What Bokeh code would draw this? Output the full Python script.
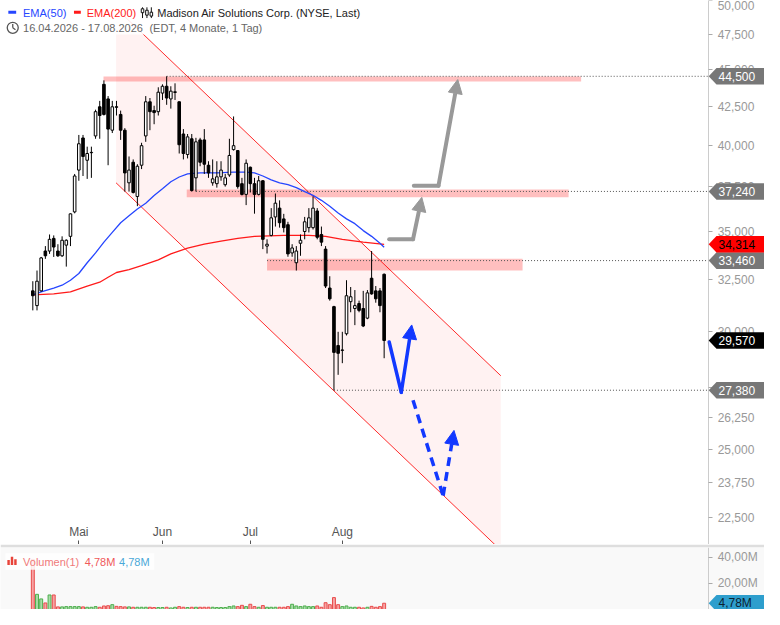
import math
import pandas as pd
from bokeh.plotting import figure
from bokeh.layouts import column
from bokeh.models import (Range1d, LogAxis, LinearAxis, FixedTicker, NumeralTickFormatter,
                          ColumnDataSource, Arrow, NormalHead)
from bokeh.core.properties import value
from bokeh.embed import file_html
from bokeh.resources import INLINE

# ---------------- data ----------------
start_date = "2026-04-16"
end_date = "2026-08-17"
holidays = ["2026-05-25", "2026-06-19", "2026-07-03"]
month_names = {1: "Jan", 2: "Feb", 3: "Mär", 4: "Apr", 5: "Mai", 6: "Jun",
               7: "Jul", 8: "Aug", 9: "Sep", 10: "Okt", 11: "Nov", 12: "Dez"}
title_text = "Madison Air Solutions Corp. (NYSE, Last)"
period_text = "(EDT, 4 Monate, 1 Tag)"

opens = [31930, 31210, 31930, 33960, 33960, 34630, 33960, 33710, 34270, 34740,
         36080, 38490, 40450, 39080, 39540, 40580, 42450, 43950, 42970, 40940,
         42450, 41950, 40940, 37740, 38960, 36950, 38780, 40580, 42780, 42200,
         42130, 43360, 43820, 42970, 43400, 42780, 40700, 39430, 40400, 38030,
         40330, 40330, 38780, 37740, 37690, 38090, 37630, 38200, 39730, 39670,
         37690, 37070, 38660, 37690, 37070, 37860, 34220, 34790, 35800, 36290,
         35690, 35370, 33860, 33350, 34370, 35000, 35210, 35210, 36130, 34840,
         34060, 32070, 31160, 29340, 29120, 29880, 31400, 31070, 31310, 31070,
         30610, 32560, 31930, 31930, 32760]
highs = [32410, 32950, 33650, 34220, 34840, 34790, 34320, 34740, 34580, 36000,
         38260, 40640, 40640, 39910, 39910, 42260, 42840, 44220, 43160, 42840,
         42840, 42200, 41070, 39310, 39130, 38840, 40150, 43160, 43030, 42520,
         43750, 43950, 44500, 43820, 44020, 42800, 41010, 40700, 40700, 40460,
         40460, 41010, 39020, 39130, 39020, 39020, 38260, 40400, 41820, 39700,
         38030, 39130, 38700, 38030, 38140, 37900, 34580, 36290, 37120, 36730,
         35970, 35530, 34320, 34220, 34840, 35800, 36290, 36950, 36290, 35270,
         34220, 32660, 31200, 29970, 29970, 32460, 32120, 31970, 31450, 31930,
         31970, 33960, 32170, 32070, 32800]
lows = [30980, 30980, 31900, 33550, 33810, 33650, 33650, 33650, 33150, 34220,
        36000, 37860, 38140, 37970, 38030, 40400, 40400, 41880, 38780, 40760,
        41880, 40330, 37230, 37230, 37120, 36400, 38550, 40210, 40940, 41320,
        41880, 42900, 42580, 42330, 42900, 39490, 39130, 39190, 37230, 37240,
        38720, 38260, 38030, 37570, 37460, 37860, 37520, 38090, 39670, 37400,
        37010, 36460, 37180, 35980, 37010, 34060, 33830, 34740, 35270, 35210,
        34950, 33660, 33660, 32950, 33710, 34580, 34950, 35110, 34580, 34220,
        32070, 31450, 27380, 28040, 28550, 29800, 30890, 30280, 30890, 30190,
        30560, 31740, 31350, 30890, 28770]
closes = [31690, 32410, 33600, 33710, 34580, 34170, 33710, 34530, 34530, 35970,
          38140, 40090, 39310, 39490, 39560, 42130, 41880, 41950, 41010, 42450,
          42420, 40940, 38320, 38490, 37180, 38720, 39970, 42780, 42130, 42070,
          43420, 43820, 43030, 43490, 43450, 40030, 39490, 40520, 37290, 40210,
          38960, 38840, 38320, 37970, 38090, 38490, 38030, 39370, 39970, 37520,
          37070, 38900, 37690, 37070, 37860, 34580, 34320, 35750, 36570, 35480,
          35210, 33810, 34120, 33960, 34530, 35530, 35750, 36290, 34690, 34430,
          32170, 31540, 29030, 28990, 29140, 31690, 31640, 31210, 30980, 30240,
          31830, 31780, 31540, 31210, 29570]
volumes_m = [38.3, 11.6, 8.1, 5.0, 11.1, 11.1, 2.0, 2.0, 2.2, 2.2,
             2.2, 2.2, 2.0, 1.7, 1.7, 2.2, 1.7, 2.7, 2.9, 3.7,
             2.4, 2.2, 2.0, 2.0, 1.7, 1.7, 1.7, 1.7, 1.7, 1.5,
             1.5, 1.5, 1.7, 1.2, 1.7, 2.2, 1.7, 1.5, 1.7, 1.7,
             1.7, 1.7, 1.7, 1.7, 1.5, 1.5, 1.5, 2.2, 2.7, 2.2,
             3.2, 2.2, 4.0, 2.2, 1.7, 3.0, 1.7, 1.7, 1.7, 1.7,
             1.7, 2.2, 4.0, 2.7, 2.2, 2.7, 2.2, 2.2, 2.7, 1.7,
             5.2, 3.7, 9.1, 3.7, 2.2, 2.7, 1.7, 1.7, 1.7, 1.2,
             1.7, 2.4, 1.7, 2.2, 4.78]

ema50_idx = [0, 2, 5, 7, 9, 11, 13, 15, 17, 19, 21, 23, 25, 27, 29, 31, 33, 35, 37, 40,
             44, 48, 51, 53, 55, 57, 59, 61, 63, 65, 67, 69, 71, 73, 75, 77, 79, 81, 83, 84]
ema50_val = [31730, 31880, 32070, 32210, 32460, 32800, 33350, 33860, 34430, 34950,
             35480, 35860, 36240, 36570, 37010, 37400, 37800, 38080, 38260, 38320,
             38320, 38370, 38370, 38320, 38140, 37910, 37740, 37630, 37460, 37230,
             37010, 36730, 36400, 36020, 35690, 35430, 35050, 34740, 34370, 34160]
ema200_idx = [0, 5, 9, 13, 16, 18, 20, 23, 26, 30, 33, 37, 41, 45, 49, 53, 60, 66, 70, 74, 79, 84]
ema200_val = [31730, 31780, 31880, 32170, 32360, 32610, 32850, 33000, 33200, 33500, 33810,
              34110, 34320, 34480, 34630, 34740, 34790, 34790, 34740, 34580, 34430, 34314]

# trend channel (bar index, price)
channel_idx = [19.9, 111.9]
channel_upper = [49440, 28000]
channel_lower = [37740, 21375]

# resistance / support zones
zone_low = [44150, 36900, 32950]
zone_high = [44480, 37350, 33550]
zone_start = [16.9, 36.8, 56.0]
zone_end = [131.1, 128.1, 117.1]

# horizontal levels
level_values = [44500, 37240, 33460, 27380]
level_start = [32, 39, 56, 72]

# drawn arrows (bar index, price)
gray1_x = [85.2, 90.9, 93.0]
gray1_y = [34580, 34580, 36900]
gray2_x = [91.1, 97.0, 101.6]
gray2_y = [37570, 37570, 44280]
blue1_x = [85.2, 88.1, 90.6]
blue1_y = [29500, 27290, 30290]
blue2_x = [90.9, 98.1, 100.7]
blue2_y = [26960, 23260, 25730]

price_ticks = [22500, 23750, 25000, 26250, 27500, 30000, 32500, 35000, 37500,
               40000, 42500, 45000, 47500, 50000]
volume_ticks = [20_000_000, 40_000_000]
volume_tick_labels = {20_000_000: "20,00M", 40_000_000: "40,00M"}

# ---------------- derived ----------------
dates = [d for d in pd.bdate_range(start_date, end_date) if d.strftime("%Y-%m-%d") not in holidays]
n = len(opens)
idx = list(range(n))
month_ticks = [i for i in idx if i > 0 and dates[i].month != dates[i - 1].month]
month_labels = {i: month_names[dates[i].month] for i in month_ticks}
date_text = f"{dates[0]:%d.%m.%Y} - {dates[-1]:%d.%m.%Y}"

up = [c >= o for o, c in zip(opens, closes)]
volumes = [m * 1e6 for m in volumes_m]

FONT = value("Liberation Sans")


# helpers: reference layout (pixels) -> data coordinates for decorations
def ix(px):
    return (px - 33.0) / 4.27


def py(ypx):
    return 47500.0 * math.exp((34.5 - ypx) / 663.0)


def vy(ypx):
    return (625.0 - ypx) * 20e6 / 27.0


AXIS_X = ix(723)
xr = Range1d(ix(0), ix(780))

# ---------------- main price figure ----------------
p = figure(width=764, height=544, x_range=xr, y_range=Range1d(py(558), py(0)),
           y_axis_type="log", x_axis_location=None, y_axis_location=None,
           toolbar_location=None, output_backend="svg", min_border=0,
           outline_line_color=None, background_fill_color="white")
p.xgrid.visible = False
p.ygrid.visible = False

yax = LogAxis(fixed_location=AXIS_X, ticker=FixedTicker(ticks=price_ticks),
              formatter=NumeralTickFormatter(format="0,0"),
              axis_line_color="#cccccc", major_tick_line_color="#aaaaaa",
              major_tick_out=4, major_tick_in=0, minor_tick_line_color=None,
              major_label_standoff=5, major_label_text_color="#999999",
              major_label_text_font="Liberation Sans", major_label_text_font_size="12px")
p.add_layout(yax, "right")

xax = LinearAxis(fixed_location=py(558), ticker=FixedTicker(ticks=month_ticks),
                 major_label_overrides=month_labels, axis_line_color=None,
                 major_tick_line_color="#555555", major_tick_out=4, major_tick_in=0,
                 minor_tick_line_color=None, major_label_standoff=2,
                 major_label_text_color="#555555", major_label_text_font="Liberation Sans",
                 major_label_text_font_size="12px")
p.add_layout(xax, "above")

# channel
p.varea(x=channel_idx, y1=channel_lower, y2=channel_upper, fill_color="#ff0000", fill_alpha=0.05)
p.line(channel_idx, channel_upper, line_color="#ff2b2b", line_width=1)
p.line(channel_idx, channel_lower, line_color="#ff2b2b", line_width=1)

# zones
p.quad(left=zone_start, right=zone_end, bottom=zone_low, top=zone_high,
       fill_color="#ff0000", fill_alpha=0.25, line_color=None)

# dotted levels
p.segment(x0=level_start, y0=level_values, x1=[AXIS_X] * len(level_values), y1=level_values,
          line_color="#555555", line_dash="1 2", line_width=1)

# EMAs
p.line(ema200_idx, ema200_val, line_color="#ff1a1a", line_width=1.3)
p.line(ema50_idx, ema50_val, line_color="#2646ff", line_width=1.3)

# candles
src = ColumnDataSource(dict(
    x=idx, h=highs, l=lows,
    top=[max(o, c) for o, c in zip(opens, closes)],
    bottom=[min(o, c) for o, c in zip(opens, closes)],
    fill=["white" if u else "black" for u in up]))
p.segment(x0="x", y0="l", x1="x", y1="h", source=src, line_color="black", line_width=1)
p.vbar(x="x", top="top", bottom="bottom", width=0.62, fill_color="fill",
       line_color="black", line_width=1, source=src)


def draw_arrow(fig, xs, ys, color, width, dash, head):
    cap = "round" if dash == "solid" else "butt"
    fig.line(xs[:-1], ys[:-1], line_color=color, line_width=width, line_dash=dash, line_cap=cap)
    fig.add_layout(Arrow(x_start=xs[-2], y_start=ys[-2], x_end=xs[-1], y_end=ys[-1],
                         line_color=color, line_width=width, line_dash=dash, line_cap=cap,
                         end=NormalHead(size=head, fill_color=color, line_color=color,
                                        line_width=1)))


draw_arrow(p, gray1_x, gray1_y, "#999999", 4, "solid", 14)
draw_arrow(p, gray2_x, gray2_y, "#999999", 4, "solid", 14)
draw_arrow(p, blue1_x, blue1_y, "#1238ff", 3.5, "solid", 14)
draw_arrow(p, blue2_x, blue2_y, "#1238ff", 3.5, "9 6", 14)

# legend block (top-left)
p.quad(left=[ix(0)], right=[ix(372)], top=[py(0)], bottom=[py(35)],
       fill_color="white", fill_alpha=0.88, line_color=None)
p.quad(left=[ix(8), ix(75)], right=[ix(16), ix(82)], top=[py(10.5)] * 2, bottom=[py(13.5)] * 2,
       fill_color=["#2646ff", "#ff1a1a"], line_color=None)
for cx, t0, t1 in [(145, 8.5, 12.5), (149.5, 10, 15), (154, 12, 16)]:
    p.segment(x0=[ix(cx)], y0=[py(7)], x1=[ix(cx)], y1=[py(18)], line_color="#111111", line_width=1)
    p.quad(left=[ix(cx - 1.3)], right=[ix(cx + 1.3)], top=[py(t0)], bottom=[py(t1)],
           fill_color="white", line_color="#111111", line_width=1)
p.scatter([ix(12.5)], [py(28)], marker="circle", size=11, fill_color=None,
          line_color="#555555", line_width=1.3)
p.segment(x0=[ix(12.5), ix(12.5)], y0=[py(28), py(28)], x1=[ix(12.5), ix(15.3)],
          y1=[py(24.2), py(30)], line_color="#555555", line_width=1.3)
p.text(x=[ix(23), ix(88), ix(160)], y=[py(12.5)] * 3,
       text=["EMA(50)", "EMA(200)", title_text],
       text_color=["#2646ff", "#ff1a1a", "#222222"], text_font=FONT,
       text_font_size="11px", text_baseline="middle", text_align="left")
p.text(x=[ix(23), ix(152)], y=[py(28.5)] * 2, text=[date_text, period_text],
       text_color="#666666", text_font=FONT, text_font_size="11px",
       text_baseline="middle", text_align="left")


# price tags on the axis
def add_tags(fig, vals, labels, fills, tcolors, top_of, bot_of):
    xs, ys = [], []
    for v_ in vals:
        t, b = top_of(v_), bot_of(v_)
        xs.append([ix(723), ix(731), ix(790), ix(790), ix(731)])
        ys.append([v_, t, t, b, b])
    fig.patches(xs, ys, fill_color=fills, line_color=None, level="overlay")
    fig.text(x=[ix(733)] * len(vals), y=vals, text=labels, text_color=tcolors,
             text_font=FONT, text_font_size="12px", text_baseline="middle",
             text_align="left", level="overlay")


tag_vals = level_values + [ema200_val[-1], closes[-1]]
tag_fills = ["#777777"] * len(level_values) + ["#ff0000", "#000000"]
tag_text_colors = ["white"] * len(level_values) + ["black", "white"]
add_tags(p, tag_vals, [f"{v:,.0f}" for v in tag_vals], tag_fills, tag_text_colors,
         lambda v: v * math.exp(8.5 / 663), lambda v: v * math.exp(-8.5 / 663))

# ---------------- volume figure ----------------
vfig = figure(width=764, height=65, x_range=xr, y_range=Range1d(0, vy(561)),
              x_axis_location=None, y_axis_location=None, toolbar_location=None,
              output_backend="svg", min_border=0, min_border_top=3,
              border_fill_color="#dedede", background_fill_color="#f9f9f9",
              outline_line_color=None)
vfig.xgrid.visible = False
vfig.ygrid.visible = False
vax = LinearAxis(fixed_location=AXIS_X, ticker=FixedTicker(ticks=volume_ticks),
                 major_label_overrides=volume_tick_labels,
                 axis_line_color="#cccccc", major_tick_line_color="#aaaaaa",
                 major_tick_out=4, major_tick_in=0, minor_tick_line_color=None,
                 major_label_standoff=5, major_label_text_color="#999999",
                 major_label_text_font="Liberation Sans", major_label_text_font_size="12px")
vfig.add_layout(vax, "right")

vsrc = ColumnDataSource(dict(x=idx, v=volumes,
                             fill=["#a8dca8" if u else "#f7a3a3" for u in up],
                             line=["#4cae4c" if u else "#e84c4c" for u in up]))
vfig.vbar(x="x", top="v", bottom=0, width=0.7, fill_color="fill", line_color="line",
          line_width=1, source=vsrc)

vfig.quad(left=[ix(5)], right=[ix(157)], top=[vy(567)], bottom=[vy(584)],
          fill_color="white", fill_alpha=0.85, line_color=None)
vfig.quad(left=[ix(7), ix(10.5), ix(14)], right=[ix(9.5), ix(13), ix(16.5)],
          top=[vy(574), vy(570.5), vy(573)], bottom=[vy(579)] * 3,
          fill_color="#e8443a", line_color=None)
vol_label = f"{volumes_m[-1]:.2f}M".replace(".", ",")
vfig.text(x=[ix(23), ix(86), ix(121)], y=[vy(575.5)] * 3,
          text=["Volumen(1)", vol_label, vol_label],
          text_color=["#f07a7a", "#f05a5a", "#4aa8d8"], text_font=FONT,
          text_font_size="11px", text_baseline="middle", text_align="left")
add_tags(vfig, [volumes[-1]], [vol_label], ["#2e9ecd"], ["#0c2230"],
         lambda v: v + 8.5 * 20e6 / 27, lambda v: v - 8.5 * 20e6 / 27)

layout = column(p, vfig, spacing=0)
open("out.html", "w").write(file_html(layout, INLINE))
